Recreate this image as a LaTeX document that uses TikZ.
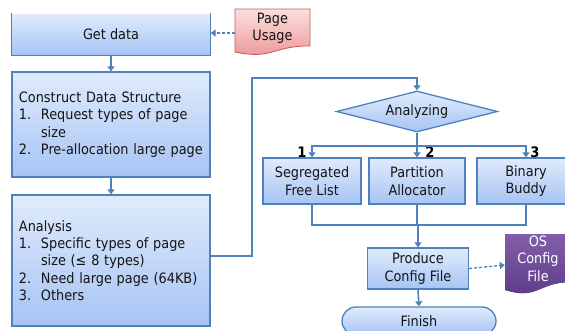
\documentclass[tikz,border=0pt]{standalone}
\usepackage{fontspec}
\setmainfont{DejaVu Sans Condensed}
\usetikzlibrary{arrows.meta,shapes.geometric}

\definecolor{edge}{RGB}{79,129,189}
\definecolor{boxtop}{RGB}{224,235,252}
\definecolor{boxbot}{RGB}{166,196,244}
\definecolor{ink}{RGB}{20,20,20}
\definecolor{redtop}{RGB}{252,222,222}
\definecolor{redbot}{RGB}{236,148,148}
\definecolor{redline}{RGB}{205,85,85}
\definecolor{purtop}{RGB}{130,94,170}
\definecolor{purbot}{RGB}{92,58,136}

\tikzset{
  flowbox/.style={draw=edge, line width=1.3pt, top color=boxtop, bottom color=boxbot,
    text=ink, inner sep=0pt, align=center, font=\fontsize{14.3}{17.4}\selectfont},
  listbox/.style={flowbox, align=left, text width=184pt, inner xsep=7pt,
    minimum width=198pt},
  link/.style={draw=edge, line width=1.6pt, -{Triangle[width=7pt,length=5pt]}},
  plain/.style={draw=edge, line width=1.6pt},
  dashlink/.style={draw=edge, line width=1.3pt, dash pattern=on 3pt off 2pt,
    -{Triangle[width=7pt,length=5pt]}},
  branchno/.style={font=\bfseries\fontsize{14.5}{14.5}\selectfont, text=black, inner sep=0pt},
  doctext/.style={inner sep=0pt, align=center, font=\fontsize{14.3}{17.4}\selectfont},
}

\newcommand{\itm}[1]{\makebox[22pt][l]{#1}}
\newcommand{\cont}{\hspace*{22pt}}

\begin{document}
\begin{tikzpicture}[x=1pt, y=-1pt]
\clip (0,0) rectangle (565,330);

% --- left column ---
\node[flowbox, draw=none, minimum width=198pt, minimum height=41pt] (gd) at (111,34.5) {Get data};
\draw[edge, line width=1.3pt] (gd.north west) -- (gd.south west) -- (gd.south east) -- (gd.north east);

\node[listbox, minimum height=105pt] (cds) at (111,124.5)
  {Construct Data Structure\\
   \itm{1.}Request types of page\\
   \cont size\\
   \itm{2.}Pre-allocation large page};

\node[listbox, minimum height=131pt] (an) at (111,260.5)
  {Analysis\\
   \itm{1.}Specific types of page\\
   \cont size (≤ 8 types)\\
   \itm{2.}Need large page (64KB)\\
   \itm{3.}Others};

% --- input document ---
\path[draw=redline, line width=0.8pt, top color=redtop, bottom color=redbot]
  (235,9) -- (310,9) -- (310,45.9)
  .. controls (272.5,45.9) and (272.5,59.9) .. (235,52) -- cycle;
\node[doctext, text=ink, minimum width=75pt, minimum height=37pt] (pu) at (272.5,28.5) {Page\\Usage};

% --- right column ---
\node[flowbox, shape=diamond, aspect=4, minimum width=161pt, minimum height=41pt] (dia) at (417,111.5) {Analyzing};

\node[flowbox, minimum width=98pt, minimum height=46pt] (sfl) at (312,181) {Segregated\\Free List};
\node[flowbox, minimum width=96pt, minimum height=46pt] (pa) at (417,181) {Partition\\Allocator};
\node[flowbox, minimum width=98pt, minimum height=46pt] (bb) at (526,181) {Binary\\Buddy};

\node[branchno] (n1) at (302,152) {1};
\node[branchno] (n2) at (430,152) {2};
\node[branchno] (n3) at (535,152) {3};

\node[flowbox, minimum width=101pt, minimum height=41pt] (pcf) at (418,268.5) {Produce\\Config File};
\node[flowbox, minimum width=154pt, minimum height=28pt, rounded corners=14pt] (fin) at (419,321) {Finish};

% --- output document ---
\path[fill=purbot, top color=purtop, bottom color=purbot]
  (505,234) -- (571,234) -- (571,282.1)
  .. controls (538,282.1) and (538,300.5) .. (505,290) -- cycle;
\node[doctext, text=white, minimum width=66pt, minimum height=48pt] (osc) at (538,258.5) {OS\\Config\\File};

% --- connectors ---
\draw[dashlink] ([yshift=-4.5pt]pu.west) -- ([yshift=-4.5pt]pu.west -| gd.east);
\draw[link] (gd.south) -- (cds.north);
\draw[link] (cds.south) -- (an.north);

\coordinate (c1) at (252,78);
\draw[link] ([yshift=4.5pt]an.east) -| (c1) -| (dia.north);

\coordinate (br) at (417,146);
\draw[plain] (dia.south) -- (br);
\draw[link] (br) -| (sfl.north);
\draw[link] (br) -- (pa.north);
\draw[link] (br) -| (bb.north);

\coordinate (mg) at (418,225);
\draw[plain] (sfl.south) |- (mg) -| (bb.south);
\draw[plain] (pa.south) -- (pa.south |- mg);
\draw[link] (mg) -- (pcf.north);
\draw[link] (pcf.south) -- (fin.north);

\draw[dashlink] (pcf.east) -- ([yshift=-6.5pt]osc.west);
\end{tikzpicture}
\end{document}
